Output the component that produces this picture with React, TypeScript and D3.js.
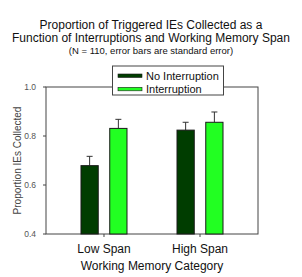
import React from 'react';
import * as d3 from 'd3';

const categories = ['Low Span', 'High Span'];
const seriesNames = ['No Interruption', 'Interruption'];
const seriesColors = ['#003d00', '#22ff22'];
const noInterruption = [0.679, 0.824];
const interruption = [0.831, 0.856];
const noInterruptionSE = [0.038, 0.032];
const interruptionSE = [0.037, 0.042];
const yTicks = [0.4, 0.6, 0.8, 1.0];

const W = 302;
const H = 277;
const m = { left: 46, right: 44, top: 87, bottom: 43 };

export default function App() {
  const x0 = d3.scalePoint<string>()
    .domain(categories)
    .range([m.left, W - m.right])
    .padding(0.604);
  const x1 = d3.scaleBand<string>()
    .domain(seriesNames)
    .range([-23, 23])
    .paddingInner(0.4);
  const y = d3.scaleLinear().domain([0.4, 1.0]).range([H - m.bottom, m.top]);

  const values = [noInterruption, interruption];
  const errs = [noInterruptionSE, interruptionSE];
  const font = 'Arial, "Liberation Sans", sans-serif';

  return (
    <svg width={W} height={H} style={{ position: 'absolute', left: 0, top: 0, background: '#fff' }} fontFamily={font}>
      <text x={151} y={29} textAnchor="middle" fontSize={12} fill="#111">Proportion of Triggered IEs Collected as a</text>
      <text x={151} y={42} textAnchor="middle" fontSize={12} fill="#111">Function of Interruptions and Working Memory Span</text>
      <text x={151} y={54} textAnchor="middle" fontSize={9.5} fill="#111">(N = 110, error bars are standard error)</text>

      <rect x={m.left} y={m.top} width={W - m.left - m.right} height={H - m.top - m.bottom} fill="none" stroke="#444" strokeWidth={1} />

      {yTicks.map(t => (
        <g key={t}>
          <line x1={m.left - 3} x2={m.left} y1={y(t)} y2={y(t)} stroke="#444" />
          <text x={m.left - 10} y={y(t) + 3} textAnchor="end" fontSize={8.5} fill="#555">{t.toFixed(1)}</text>
        </g>
      ))}
      <text transform={`translate(21,${(m.top + H - m.bottom) / 2}) rotate(-90)`} textAnchor="middle" fontSize={10} fill="#444">Proportion IEs Collected</text>

      {categories.map((c, ci) => (
        <g key={c} transform={`translate(${x0(c)},0)`}>
          <line x1={0} x2={0} y1={H - m.bottom} y2={H - m.bottom + 3} stroke="#444" />
          {seriesNames.map((s, si) => {
            const v = values[si][ci];
            const e = errs[si][ci];
            const bx = x1(s)!;
            const cx = bx + x1.bandwidth() / 2;
            return (
              <g key={s}>
                <line x1={cx} x2={cx} y1={y(v)} y2={y(v + e)} stroke="#333" />
                <line x1={cx - 3} x2={cx + 3} y1={y(v + e)} y2={y(v + e)} stroke="#333" />
                <rect x={bx} y={y(v)} width={x1.bandwidth()} height={y(0.4) - y(v)} fill={seriesColors[si]} stroke="#1a1a1a" strokeWidth={1} />
              </g>
            );
          })}
          <text x={0} y={253} textAnchor="middle" fontSize={12} fill="#111">{c}</text>
        </g>
      ))}
      <text x={152} y={270} textAnchor="middle" fontSize={12} fill="#111">Working Memory Category</text>

      <g>
        <rect x={112.5} y={66} width={111} height={29} fill="#fff" stroke="#444" />
        {seriesNames.map((s, i) => (
          <g key={s}>
            <rect x={118} y={74 + i * 13.3} width={24} height={3.5} fill={seriesColors[i]} stroke="#1a1a1a" strokeWidth={0.6} />
            <text x={146} y={79.5 + i * 13.3} fontSize={11} fill="#111">{s}</text>
          </g>
        ))}
      </g>
    </svg>
  );
}
